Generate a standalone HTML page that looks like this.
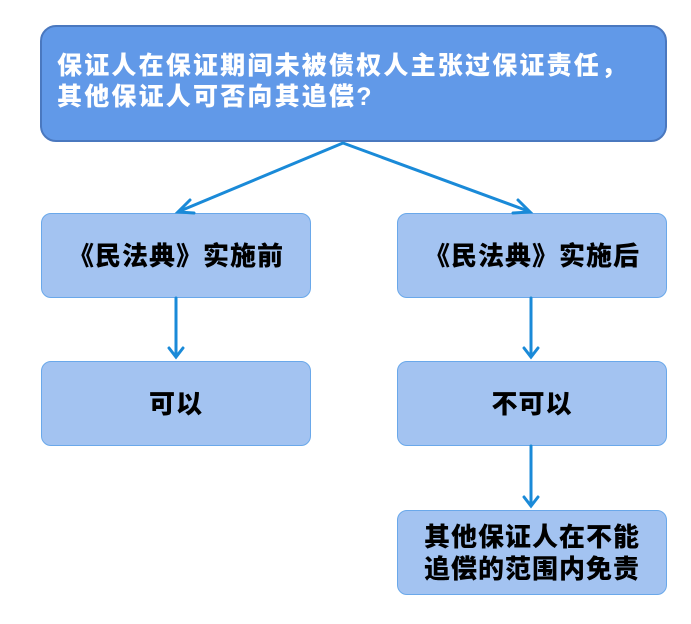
<!DOCTYPE html>
<html><head><meta charset="utf-8"><style>
body{margin:0;width:691px;height:624px;background:#fff;position:relative;overflow:hidden;font-family:"Liberation Sans","Noto Sans CJK SC",sans-serif;font-weight:900}
.b{position:absolute;box-sizing:border-box;display:flex;align-items:center;justify-content:center;text-align:center}
.top{left:40px;top:25px;width:627px;height:117px;background:#6199e8;border:2px solid #4a78bf;border-radius:16px;color:#fff;font-size:25px;line-height:31px;letter-spacing:2.2px;justify-content:flex-start;text-align:left;padding-left:15px;padding-bottom:4px;white-space:nowrap}
.s{width:270px;height:85px;background:#a3c3f1;border:1px solid #6aa8ea;border-radius:10px;color:#000;font-size:26px;letter-spacing:1px;line-height:32px}
</style></head><body>
<div class="b top">保证人在保证期间未被债权人主张过保证责任，<br>其他保证人可否向其追偿?</div>
<div class="b s" style="left:41px;top:213px">《民法典》实施前</div>
<div class="b s" style="left:397px;top:213px">《民法典》实施后</div>
<div class="b s" style="left:41px;top:361px">可以</div>
<div class="b s" style="left:397px;top:361px">不可以</div>
<div class="b s" style="left:397px;top:510px">其他保证人在不能<br>追偿的范围内免责</div>
<svg width="691" height="624" style="position:absolute;left:0;top:0">
<g stroke="#1a8ad8" stroke-width="3" fill="none" stroke-linecap="round">
<line x1="343" y1="143" x2="180" y2="211"/><polyline points="190,200 178,212 194,213"/>
<line x1="343" y1="143" x2="528" y2="211"/><polyline points="513,213 530,212 518,200"/>
<line x1="176" y1="298" x2="176" y2="356"/><polyline points="169,348 176,357 183,348"/>
<line x1="531" y1="298" x2="531" y2="356"/><polyline points="524,348 531,357 538,348"/>
<line x1="531" y1="446" x2="531" y2="505"/><polyline points="524,497 531,506 538,497"/>
</g></svg>
</body></html>
